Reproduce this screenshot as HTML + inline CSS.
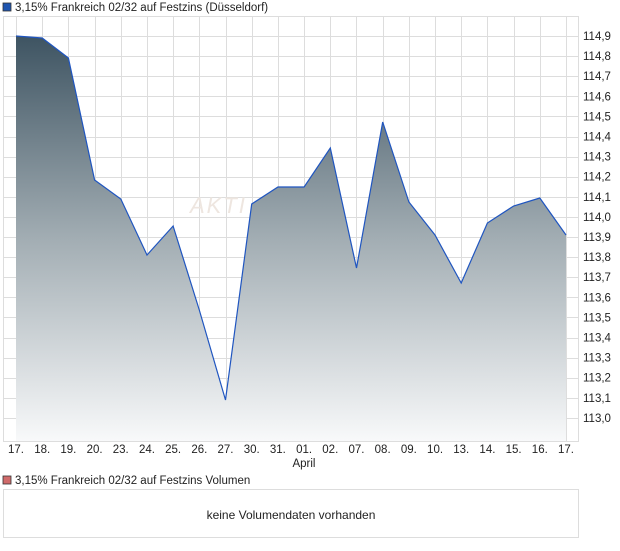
<!DOCTYPE html>
<html><head><meta charset="utf-8"><style>
body{margin:0;background:#fff;width:620px;height:546px;overflow:hidden;font-family:"Liberation Sans",sans-serif;}
</style></head><body>
<svg width="620" height="546" xmlns="http://www.w3.org/2000/svg" font-family="Liberation Sans, sans-serif" font-size="12">
<defs><linearGradient id="g" x1="0" y1="0" x2="0" y2="1">
<stop offset="0" stop-color="#3e5462"/><stop offset="0.5" stop-color="#a2adb3"/><stop offset="1" stop-color="#f8f9fa"/></linearGradient></defs>
<rect x="3" y="3" width="8" height="8" fill="#1f55b0" stroke="#333" stroke-width="0.8"/>
<text x="15" y="11" fill="#222" font-size="11.5">3,15% Frankreich 02/32 auf Festzins (Düsseldorf)</text>
<g stroke="#ddd" stroke-width="1" id="grid"></g>
<rect x="3.5" y="16.5" width="575" height="425" fill="none" stroke="#ddd"/>
<text x="190" y="213" font-size="22" font-style="italic" fill="#eee6e0" letter-spacing="2">AKTI</text>
<path id="area" fill="url(#g)" stroke="none"/>
<path id="line" fill="none" stroke="#1f55c0" stroke-width="1.2"/>
<g id="yl" fill="#222" font-size="11.5"></g>
<g id="xl" fill="#222" font-size="11.5" text-anchor="middle"></g>
<text x="304" y="467" fill="#222" font-size="11.5" text-anchor="middle">April</text>
<rect x="3" y="476" width="8" height="8" fill="#d06a6a" stroke="#333" stroke-width="0.8"/>
<text x="15" y="484" fill="#222" font-size="11.5">3,15% Frankreich 02/32 auf Festzins Volumen</text>
<rect x="3.5" y="489.5" width="575" height="48" fill="none" stroke="#ddd"/>
<text x="291" y="519" fill="#222" font-size="12" text-anchor="middle">keine Volumendaten vorhanden</text>
</svg>
<script>
var ns="http://www.w3.org/2000/svg";
var ys=[36,38,58,180,199,255,226,310,400,204,187,187,148,268,122,202,235,283,223,206,198,235];
var lab=["17.","18.","19.","20.","23.","24.","25.","26.","27.","30.","31.","01.","02.","07.","08.","09.","10.","13.","14.","15.","16.","17."];
var dx=550/21,g=document.getElementById("grid"),s="";
for(var i=0;i<22;i++){var x=Math.round(16+i*dx)+0.5;s+='<line x1="'+x+'" y1="16" x2="'+x+'" y2="441"/>';}
for(var k=0;k<20;k++){var y=Math.round(36+k*20.1)+0.5;s+='<line x1="3" y1="'+y+'" x2="578" y2="'+y+'"/>';}
g.innerHTML=s;
var d="";for(var i=0;i<22;i++){d+=(i?"L":"M")+(16+i*dx).toFixed(1)+","+ys[i];}
document.getElementById("line").setAttribute("d",d);
document.getElementById("area").setAttribute("d",d+"L566,441L16,441Z");
var yl="";for(var k=0;k<20;k++){var v=(114.9-k*0.1).toFixed(1).replace(".",",");yl+='<text x="583" y="'+(40+k*20.1)+'">'+v+'</text>';}
document.getElementById("yl").innerHTML=yl;
var xl="";for(var i=0;i<22;i++){xl+='<text x="'+(16+i*dx)+'" y="453">'+lab[i]+'</text>';}
document.getElementById("xl").innerHTML=xl;
</script>
</body></html>
